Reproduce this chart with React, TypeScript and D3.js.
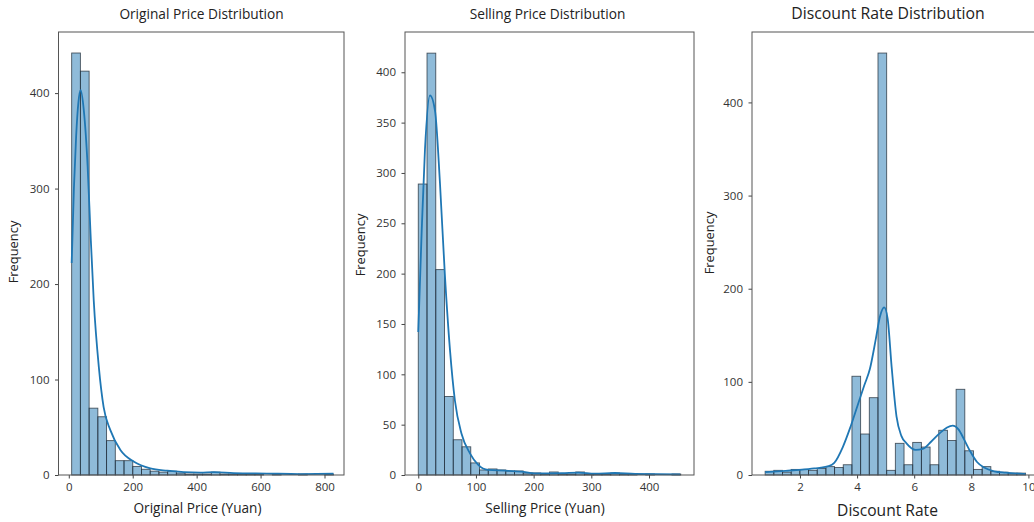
import React, { useEffect, useRef } from 'react';
import * as d3 from 'd3';

// histogram counts, 30 equal bins each
const originalCounts = [442, 423, 70, 61, 36, 15, 15, 9, 6, 4, 3, 4, 2, 1, 1, 1, 3, 1, 1, 1, 1, 1, 0, 1, 0, 0, 1, 0, 0, 1];
const sellingCounts = [289, 419, 204, 78, 35, 28, 12, 5, 6, 5, 4, 4, 2, 2, 1, 3, 1, 1, 3, 1, 1, 1, 2, 1, 1, 0, 1, 0, 0, 1];
const discountCounts = [4, 5, 3, 6, 6, 5, 7, 9, 8, 11, 106, 44, 83, 453, 5, 34, 11, 35, 30, 11, 48, 37, 92, 26, 6, 9, 4, 3, 2, 2];

// min / max of the data the bins span
const originalRange = [9, 828];
const sellingRange = [0, 455];
const discountRange = [0.78, 9.9];

// kde curves, [value, count]
const originalKde = [
  [9, 222], [16, 300], [23, 355], [30, 390], [37, 403], [47, 382], [59, 323], [68, 253],
  [78, 183], [94, 113], [109, 71], [130, 47], [162, 26], [204, 14], [255, 7], [308, 4.5],
  [360, 3], [412, 2.5], [454, 3], [516, 2], [620, 1.5], [724, 1], [828, 1.3],
];
const sellingKde = [
  [0, 142], [5.8, 240], [11.6, 323], [20.3, 377], [29, 362], [37.6, 290], [46, 200],
  [55, 124], [63.5, 74], [75, 41], [89.6, 21.5], [104, 10], [121, 5], [150, 4.3],
  [179, 3.3], [202, 1.7], [231, 1.7], [249, 1.8], [278, 2.3], [306, 1.3], [341, 2],
  [376, 1], [454, 0.7],
];
const discountKde = [
  [0.78, 3], [1.5, 4.5], [2.0, 5.5], [2.5, 7], [3.0, 9.5], [3.2, 13], [3.5, 30], [3.75, 50],
  [4.0, 73], [4.25, 96], [4.45, 114], [4.65, 145], [4.8, 170], [4.95, 180], [5.07, 168],
  [5.21, 116], [5.38, 63], [5.55, 42], [5.73, 34], [6.05, 27], [6.3, 28], [6.6, 36],
  [6.9, 45], [7.15, 51], [7.35, 53], [7.55, 49], [7.75, 38], [7.95, 26], [8.2, 14],
  [8.45, 8], [8.8, 4], [9.2, 2.5], [9.9, 1],
];

const originalXTicks = [0, 200, 400, 600, 800];
const originalYTicks = [0, 100, 200, 300, 400];
const sellingXTicks = [0, 100, 200, 300, 400];
const sellingYTicks = [0, 50, 100, 150, 200, 250, 300, 350, 400];
const discountXTicks = [2, 4, 6, 8, 10];
const discountYTicks = [0, 100, 200, 300, 400];

const FONT = '"Open Sans", "DejaVu Sans", sans-serif';

const panels = [
  {
    title: 'Original Price Distribution', xlabel: 'Original Price (Yuan)',
    counts: originalCounts, range: originalRange, kde: originalKde,
    xticks: originalXTicks, yticks: originalYTicks,
    left: 58.5, right: 344, xlim: [-32.2, 861], ylim: [0, 464],
    titleX: 201.5, titleSize: 13.7, xlabelX: 197.5, xlabelSize: 13.6, xlabelY: 513, ylabelX: 17.5, ylabelY: 252,
  },
  {
    title: 'Selling Price Distribution', xlabel: 'Selling Price (Yuan)',
    counts: sellingCounts, range: sellingRange, kde: sellingKde,
    xticks: sellingXTicks, yticks: sellingYTicks,
    left: 405, right: 694, xlim: [-23, 478], ylim: [0, 440],
    titleX: 547.5, titleSize: 13.7, xlabelX: 545, xlabelSize: 13.6, xlabelY: 513, ylabelX: 365, ylabelY: 245,
  },
  {
    title: 'Discount Rate Distribution', xlabel: 'Discount Rate',
    counts: discountCounts, range: discountRange, kde: discountKde,
    xticks: discountXTicks, yticks: discountYTicks,
    left: 752, right: 1038.7, xlim: [0.32, 10.36], ylim: [0, 475.6],
    titleX: 888, titleSize: 15.8, xlabelX: 887.5, xlabelSize: 15.6, xlabelY: 515.5, ylabelX: 714, ylabelY: 243,
  },
];

const TOP = 32;
const BOTTOM = 475;

const Panel = ({ p }) => {
  const ref = useRef(null);

  useEffect(() => {
    const g = d3.select(ref.current);
    g.selectAll('*').remove();

    const x = d3.scaleLinear().domain(p.xlim).range([p.left, p.right]);
    const y = d3.scaleLinear().domain(p.ylim).range([BOTTOM, TOP]);

    const [lo, hi] = p.range;
    const w = (hi - lo) / p.counts.length;
    const bins = p.counts.map((c, i) => ({ x0: lo + i * w, x1: lo + (i + 1) * w, c }));

    g.selectAll('rect.bar')
      .data(bins.filter((b) => b.c > 0))
      .enter()
      .append('rect')
      .attr('class', 'bar')
      .attr('x', (d) => x(d.x0))
      .attr('width', (d) => x(d.x1) - x(d.x0))
      .attr('y', (d) => y(d.c))
      .attr('height', (d) => y(0) - y(d.c))
      .attr('fill', '#1f77b4')
      .attr('fill-opacity', 0.5)
      .attr('stroke', '#25313c')
      .attr('stroke-opacity', 0.8)
      .attr('stroke-width', 0.9);

    const line = d3
      .line()
      .x((d) => x(d[0]))
      .y((d) => y(d[1]))
      .curve(d3.curveMonotoneX);

    g.append('path')
      .attr('d', line(p.kde))
      .attr('fill', 'none')
      .attr('stroke', '#1f77b4')
      .attr('stroke-width', 1.8);

    // axes
    const xAxis = g
      .append('g')
      .attr('transform', `translate(0, ${BOTTOM})`)
      .call(d3.axisBottom(x).tickValues(p.xticks).tickSize(3.5).tickPadding(4.5).tickFormat(d3.format('d')));
    const yAxis = g
      .append('g')
      .attr('transform', `translate(${p.left}, 0)`)
      .call(d3.axisLeft(y).tickValues(p.yticks).tickSize(3.5).tickPadding(5.5).tickFormat(d3.format('d')));

    [xAxis, yAxis].forEach((a) => {
      a.select('.domain').remove();
      a.selectAll('line').attr('stroke', '#444');
      a.selectAll('text').attr('fill', '#333').style('font-family', FONT).style('font-size', '11.5px');
    });

    // frame
    g.append('rect')
      .attr('x', p.left)
      .attr('y', TOP)
      .attr('width', p.right - p.left)
      .attr('height', BOTTOM - TOP)
      .attr('fill', 'none')
      .attr('stroke', '#555')
      .attr('stroke-width', 1);

    g.append('text')
      .attr('x', p.titleX)
      .attr('y', 18.8)
      .attr('text-anchor', 'middle')
      .attr('fill', '#222')
      .style('font-family', FONT)
      .style('font-size', `${p.titleSize}px`)
      .text(p.title);

    g.append('text')
      .attr('x', p.xlabelX)
      .attr('y', p.xlabelY)
      .attr('text-anchor', 'middle')
      .attr('fill', '#222')
      .style('font-family', FONT)
      .style('font-size', `${p.xlabelSize}px`)
      .text(p.xlabel);

    g.append('text')
      .attr('transform', `translate(${p.ylabelX}, ${p.ylabelY}) rotate(-90)`)
      .attr('text-anchor', 'middle')
      .attr('fill', '#222')
      .style('font-family', FONT)
      .style('font-size', '12.9px')
      .text('Frequency');
  }, [p]);

  return <g ref={ref} />;
};

const App = () => {
  return (
    <svg
      width="1034"
      height="522"
      style={{ position: 'absolute', left: 0, top: 0, background: '#fff' }}
    >
      <rect width="1034" height="522" fill="#fff" />
      {panels.map((p) => (
        <Panel key={p.title} p={p} />
      ))}
    </svg>
  );
};

export default App;
